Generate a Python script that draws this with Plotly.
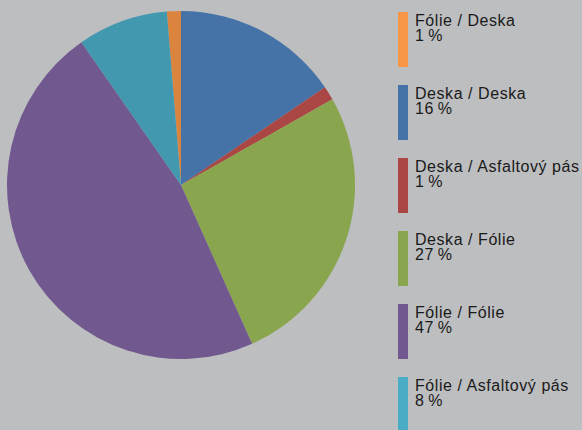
import plotly.graph_objects as go

labels = ["Fólie / Deska", "Deska / Deska", "Deska / Asfaltový pás",
          "Deska / Fólie", "Fólie / Fólie", "Fólie / Asfaltový pás"]
values = [1.3, 15.5, 1.3, 26.5, 47.0, 8.4]
pct_labels = ["1\u2009%", "16\u2009%", "1\u2009%", "27\u2009%", "47\u2009%", "8\u2009%"]
pie_colors = ["#db843d", "#4572a7", "#aa4643", "#89a54e", "#71588f", "#4198af"]
legend_colors = ["#f79646", "#4572a7", "#aa4643", "#89a54e", "#71588f", "#4bacc6"]

W, H = 582, 430
bg = "#bdbec0"

total = sum(values)
# rotate so that the second category starts at 12 o'clock
rotation = -values[0] / total * 360

fig = go.Figure(go.Pie(
    labels=labels, values=values, sort=False, direction="clockwise",
    rotation=rotation, marker=dict(colors=pie_colors, line=dict(width=0)),
    textinfo="none", hoverinfo="label+percent", showlegend=False,
    domain=dict(x=[7 / W, 355 / W], y=[(H - 359) / H, (H - 11) / H]),
))

shapes = []
annotations = []
step = 73
for i, (lab, pct, col) in enumerate(zip(labels, pct_labels, legend_colors)):
    top = 12 + i * step
    shapes.append(dict(type="rect", xref="paper", yref="paper",
                       x0=398 / W, x1=408 / W, y0=(H - top - 55) / H, y1=(H - top) / H,
                       fillcolor=col, line=dict(width=0), layer="above"))
    for j, txt in enumerate([lab, pct]):
        annotations.append(dict(
            xref="paper", yref="paper", x=414 / W, y=(H - top + 1 - j * 15) / H,
            xanchor="left", yanchor="top", showarrow=False, borderpad=0,
            text='<span style="letter-spacing:0.55px">' + txt + '</span>',
            font=dict(family="Liberation Sans, Arial, sans-serif", size=16, color="#1a1a1a"),
        ))

fig.update_layout(
    width=W, height=H, margin=dict(l=0, r=0, t=0, b=0),
    paper_bgcolor=bg, plot_bgcolor=bg,
    shapes=shapes, annotations=annotations,
)
fig.write_html("out.html", config={"displayModeBar": False},
               post_script="document.body.style.margin='0';document.body.style.background='%s';" % bg)
